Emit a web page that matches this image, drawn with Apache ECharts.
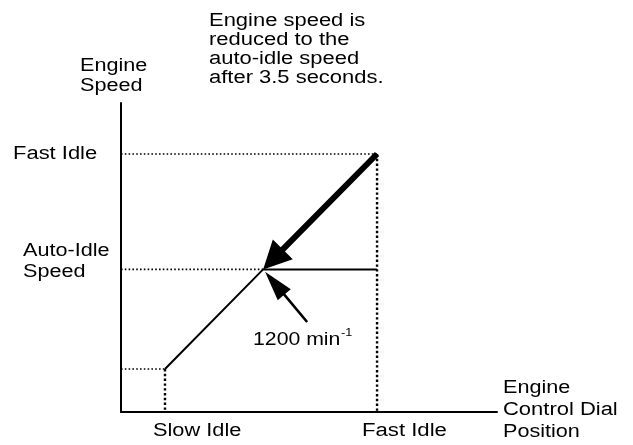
<!DOCTYPE html>
<html>
<head>
<meta charset="utf-8">
<script src="https://cdn.jsdelivr.net/npm/echarts@6/dist/echarts.min.js"></script>
<style>
  html, body { margin: 0; padding: 0; background: #fff; }
  #chart { width: 633px; height: 445px; }
</style>
</head>
<body>
<div id="chart"></div>
<script>
// Idle set-points along the engine control dial
const idleNames = ['Slow Idle', 'Auto-Idle', 'Fast Idle'];
const dialPosition = [11.7, 37.8, 68.1];      // % of dial travel
const engineSpeed = [362, 1200, 2171];         // min-1
const calloutTail = [49.5, 757];               // where the 1200 min-1 pointer starts

const SLOW = 0, AUTO = 1, FAST = 2;
const FONT = '"Liberation Sans", Arial, Helvetica, sans-serif';

// Response curve: rises from slow idle to the auto-idle point, then stays flat
const curve = [
  [dialPosition[SLOW], engineSpeed[SLOW]],
  [dialPosition[AUTO], engineSpeed[AUTO]],
  [dialPosition[FAST], engineSpeed[AUTO]]
];

// Dotted reference lines: [x1, y1, x2, y2, vertical?]
const guides = [
  [0, engineSpeed[FAST], dialPosition[FAST], engineSpeed[FAST], 0],
  [0, engineSpeed[AUTO], dialPosition[AUTO], engineSpeed[AUTO], 0],
  [0, engineSpeed[SLOW], dialPosition[SLOW], engineSpeed[SLOW], 0],
  [dialPosition[FAST], engineSpeed[FAST], dialPosition[FAST], 0, 1],
  [dialPosition[SLOW], engineSpeed[SLOW], dialPosition[SLOW], 0, 1]
];

// Arrows: [tailX, tailY, tipX, tipY, styleIndex]
const arrows = [
  [dialPosition[FAST], engineSpeed[FAST], dialPosition[AUTO], engineSpeed[AUTO], 0],
  [calloutTail[0], calloutTail[1], dialPosition[AUTO], engineSpeed[AUTO], 1]
];
const arrowStyles = [
  { shaft: 6, headLen: 28, headHalf: 14, gap: 0 },
  { shaft: 2.6, headLen: 30, headHalf: 8.5, gap: 3 }
];

function renderGuide(params, api) {
  const p1 = api.coord([api.value(0), api.value(1)]);
  const p2 = api.coord([api.value(2), api.value(3)]);
  const vertical = api.value(4) === 1;
  return {
    type: 'line',
    shape: { x1: p1[0], y1: p1[1], x2: p2[0], y2: p2[1] },
    style: {
      stroke: '#000',
      lineWidth: vertical ? 2.4 : 1.6,
      lineDash: vertical ? [2.4, 2.4] : [1.6, 2.2]
    }
  };
}

function renderArrow(params, api) {
  const tail = api.coord([api.value(0), api.value(1)]);
  const tip0 = api.coord([api.value(2), api.value(3)]);
  const st = arrowStyles[api.value(4)];
  const dx = tip0[0] - tail[0], dy = tip0[1] - tail[1];
  const len = Math.sqrt(dx * dx + dy * dy);
  const ux = dx / len, uy = dy / len;
  const nx = -uy, ny = ux;
  const tip = [tip0[0] - ux * st.gap, tip0[1] - uy * st.gap];
  const base = [tip[0] - ux * st.headLen, tip[1] - uy * st.headLen];
  const w = st.shaft / 2, h = st.headHalf;
  const pts = [
    [tail[0] + nx * w, tail[1] + ny * w],
    [base[0] + nx * w, base[1] + ny * w],
    [base[0] + nx * h, base[1] + ny * h],
    tip,
    [base[0] - nx * h, base[1] - ny * h],
    [base[0] - nx * w, base[1] - ny * w],
    [tail[0] - nx * w, tail[1] - ny * w]
  ];
  return { type: 'polygon', shape: { points: pts }, style: { fill: '#000' } };
}

// Text blocks: [text, left, middleY, fontSize, stretch]
const texts = [
  ['Engine speed is', 209, 21, 18, 1.22],
  ['reduced to the', 209, 40, 18, 1.22],
  ['auto-idle speed', 209, 59, 18, 1.22],
  ['after 3.5 seconds.', 209, 78, 18, 1.22],
  ['Engine', 80, 66, 18, 1.2],
  ['Speed', 80, 86, 18, 1.2],
  ['Fast Idle', 13, 154, 18, 1.22],
  ['Auto-Idle', 23, 251, 18, 1.2],
  ['Speed', 23, 272, 18, 1.2],
  ['1200 min', 253, 340, 18, 1.18],
  ['Slow Idle', 153, 431, 18, 1.21],
  ['Fast Idle', 362, 431, 18, 1.23],
  ['Engine', 503, 388, 18, 1.2],
  ['Control Dial', 503, 410, 18, 1.22],
  ['Position', 503, 432, 18, 1.2]
];

const graphic = texts.map(t => ({
  type: 'text',
  x: t[1], y: t[2],
  scaleX: t[4],
  style: {
    text: t[0], x: 0, y: 0,
    fontSize: t[3], fontFamily: FONT,
    fill: '#000', align: 'left', verticalAlign: 'middle'
  }
}));
// exponent of min-1
graphic.push({
  type: 'text', x: 341, y: 333,
  scaleX: 1.15,
  style: { text: '-1', x: 0, y: 0, fontSize: 11, fontFamily: FONT, fill: '#000', align: 'left', verticalAlign: 'middle' }
});

const chart = echarts.init(document.getElementById('chart'), null, { renderer: 'canvas' });
chart.setOption({
  animation: false,
  backgroundColor: '#fff',
  grid: { left: 121, top: 103, width: 376, height: 309 },
  xAxis: {
    type: 'value', min: 0, max: 100,
    axisLine: { show: true, lineStyle: { color: '#000', width: 2 } },
    axisTick: { show: false }, axisLabel: { show: false }, splitLine: { show: false }
  },
  yAxis: {
    type: 'value', min: 0, max: 2600,
    axisLine: { show: true, lineStyle: { color: '#000', width: 2 } },
    axisTick: { show: false }, axisLabel: { show: false }, splitLine: { show: false }
  },
  graphic: graphic,
  series: [
    {
      name: 'guides', type: 'custom', renderItem: renderGuide,
      data: guides, silent: true, z: 1
    },
    {
      name: 'engine speed', type: 'line', data: curve,
      symbol: 'none', lineStyle: { color: '#000', width: 2 }, z: 2
    },
    {
      name: 'arrows', type: 'custom', renderItem: renderArrow,
      data: arrows, silent: true, z: 3
    }
  ]
});
</script>
</body>
</html>
